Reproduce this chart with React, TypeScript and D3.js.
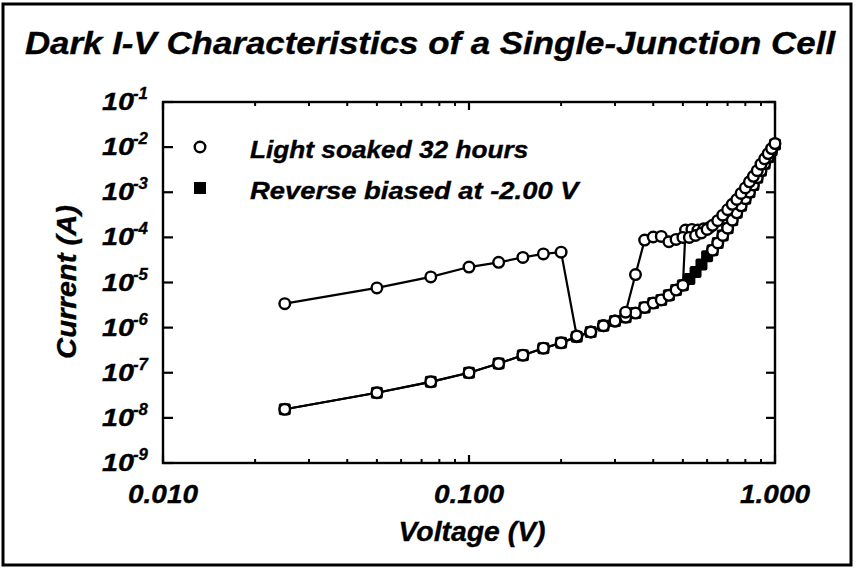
import React from "react";
import * as d3 from "d3";

// ---- data ----
const lowerV = [0.025, 0.05, 0.075, 0.1, 0.125, 0.15, 0.175, 0.2, 0.225, 0.25, 0.275, 0.3, 0.325, 0.35, 0.375, 0.4, 0.425, 0.45, 0.475, 0.5];
const lowerI = [1.55e-8, 3.6e-8, 6.3e-8, 1.0e-7, 1.6e-7, 2.45e-7, 3.5e-7, 4.6e-7, 6.3e-7, 8.0e-7, 1.1e-6, 1.4e-6, 1.7e-6, 2.1e-6, 2.8e-6, 3.5e-6, 4.1e-6, 5.2e-6, 6.8e-6, 8.7e-6];

// light soaked, sweep 1 (high leakage branch, drops, then jumps again)
const sweep1V = [0.025, 0.05, 0.075, 0.1, 0.125, 0.15, 0.175, 0.2, 0.225, 0.25, 0.275, 0.3, 0.325, 0.35, 0.375, 0.4, 0.425, 0.45, 0.475, 0.5, 0.525, 0.55, 0.575, 0.6, 0.625, 0.65, 0.675, 0.7, 0.725, 0.75, 0.775, 0.8, 0.825, 0.85, 0.875, 0.9, 0.925, 0.95, 0.975, 1.0];
const sweep1I = [3.4e-6, 7.6e-6, 1.33e-5, 2.2e-5, 2.8e-5, 3.6e-5, 4.3e-5, 4.7e-5, 6.5e-7, 8.0e-7, 1.1e-6, 1.4e-6, 2.2e-6, 1.5e-5, 8.7e-5, 1.02e-4, 1.05e-4, 8.0e-5, 9.0e-5, 1.0e-4, 1.0e-4, 1.1e-4, 1.25e-4, 1.5e-4, 1.85e-4, 2.35e-4, 3.1e-4, 4.1e-4, 5.4e-4, 6.9e-4, 9.4e-4, 1.25e-3, 1.7e-3, 2.25e-3, 3.0e-3, 4.2e-3, 5.5e-3, 7.2e-3, 9.3e-3, 1.2e-2];

// light soaked, sweep 2 (low branch, jumps near 0.51 V)
const sweep2V = [...lowerV, 0.51, 0.535, 0.56, 0.585, 0.61];
const sweep2I = [...lowerI, 1.45e-4, 1.5e-4, 1.45e-4, 1.55e-4, 1.65e-4];

// light soaked, low high-voltage branch
const sweep3V = [0.625, 0.65, 0.675, 0.7, 0.725, 0.75, 0.775, 0.8, 0.825, 0.85, 0.875, 0.9, 0.925, 0.95, 0.975];
const sweep3I = [5.2e-5, 7.5e-5, 1.1e-4, 1.6e-4, 2.4e-4, 3.5e-4, 5.0e-4, 7.2e-4, 1.0e-3, 1.45e-3, 2.1e-3, 3.0e-3, 4.3e-3, 6.0e-3, 8.5e-3];

// reverse biased at -2.00 V
const reverseV = [...lowerV, 0.525, 0.55, 0.575, 0.6, ...sweep3V, 1.0];
const reverseI = [...lowerI, 1.2e-5, 1.7e-5, 2.5e-5, 3.8e-5, ...sweep3I, 1.15e-2];

const yTickExps = [-1, -2, -3, -4, -5, -6, -7, -8, -9];
const xTickValues = [0.01, 0.1, 1];
const xTickLabels = ["0.010", "0.100", "1.000"];
const xMinorTicks = [0.02, 0.03, 0.04, 0.05, 0.06, 0.07, 0.08, 0.09, 0.2, 0.3, 0.4, 0.5, 0.6, 0.7, 0.8, 0.9];

const titleText = "Dark I-V Characteristics of a Single-Junction Cell";
const legendLabels = ["Light soaked 32 hours", "Reverse biased at -2.00 V"];
const xAxisTitle = "Voltage (V)";
const yAxisTitle = "Current (A)";

const W = 862;
const H = 571;
const L = 163, R = 775, T = 102, B = 463;
const FONT = "'Liberation Sans', Arial, Helvetica, sans-serif";

type STextProps = {
  x: number;
  y: number;
  size: number;
  sx?: number;
  anchor?: "start" | "middle" | "end";
  rotate?: number;
  children: React.ReactNode;
};

function SText({ x, y, size, sx = 1, anchor = "start", rotate = 0, children }: STextProps) {
  return (
    <text
      transform={`translate(${x},${y}) rotate(${rotate}) scale(${sx},1)`}
      textAnchor={anchor}
      fontSize={size}
      fontFamily={FONT}
      fontWeight="bold"
      fontStyle="italic"
      fill="#000"
      stroke="#000"
      strokeWidth={0.35}
    >
      {children}
    </text>
  );
}

export default function App() {
  const x = d3.scaleLog().domain([0.01, 1]).range([L, R]);
  const y = d3.scaleLog().domain([1e-9, 1e-1]).range([B, T]);
  const line = d3
    .line<[number, number]>()
    .x((d) => x(d[0]))
    .y((d) => y(d[1]));
  const zip = (vs: number[], is: number[]) => vs.map((v, i) => [v, is[i]] as [number, number]);

  const s1 = zip(sweep1V, sweep1I);
  const s2 = zip(sweep2V, sweep2I);
  const s3 = zip(sweep3V, sweep3I);
  const rv = zip(reverseV, reverseI);

  const LW = 2.2;
  const CR = 5.3;

  return (
    <div style={{ position: "fixed", left: 0, top: 0 }}>
      <svg width={W} height={H} viewBox={`0 0 ${W} ${H}`} style={{ display: "block", background: "#fff" }}>
        <rect x={3} y={4} width={848} height={561} fill="#fff" stroke="#000" strokeWidth={3} />
        <SText x={430} y={54} size={32} sx={1.09} anchor="middle">
          {titleText}
        </SText>

        {/* plot frame */}
        <rect x={L} y={T} width={R - L} height={B - T} fill="none" stroke="#000" strokeWidth={2.4} />

        {/* y ticks (left and right) */}
        {yTickExps.map((e) => {
          const yy = y(Math.pow(10, e));
          return (
            <g key={"y" + e}>
              <line x1={L} x2={L + 10} y1={yy} y2={yy} stroke="#000" strokeWidth={2.2} />
              <line x1={R} x2={R - 9} y1={yy} y2={yy} stroke="#000" strokeWidth={2.2} />
              <SText x={134} y={yy + 8} size={24} sx={1.2} anchor="end">
                10
              </SText>
              <SText x={133} y={yy - 3} size={16} sx={1.05}>
                {String(e)}
              </SText>
            </g>
          );
        })}

        {/* x ticks */}
        {xMinorTicks.map((v) => (
          <g key={"m" + v}>
            <line x1={x(v)} x2={x(v)} y1={B} y2={B - 4} stroke="#000" strokeWidth={2} />
            <line x1={x(v)} x2={x(v)} y1={T} y2={T + 4} stroke="#000" strokeWidth={2} />
          </g>
        ))}
        {xTickValues.map((v, i) => (
          <g key={"x" + v}>
            <line x1={x(v)} x2={x(v)} y1={B} y2={B - 8} stroke="#000" strokeWidth={2.2} />
            <line x1={x(v)} x2={x(v)} y1={T} y2={T + 8} stroke="#000" strokeWidth={2.2} />
            <SText x={x(v)} y={503} size={25} sx={1.12} anchor="middle">
              {xTickLabels[i]}
            </SText>
          </g>
        ))}

        {/* axis titles */}
        <SText x={472} y={541} size={27} sx={1.05} anchor="middle">
          {xAxisTitle}
        </SText>
        <SText x={76} y={282} size={27} sx={1.08} anchor="middle" rotate={-90}>
          {yAxisTitle}
        </SText>

        {/* lines */}
        <path d={line(rv) || ""} fill="none" stroke="#000" strokeWidth={LW} />
        <path d={line(s3) || ""} fill="none" stroke="#000" strokeWidth={LW} />
        <path d={line(s2) || ""} fill="none" stroke="#000" strokeWidth={LW} />
        <path d={line(s1) || ""} fill="none" stroke="#000" strokeWidth={LW} />

        {/* reverse-biased squares */}
        {rv.map((d, i) => (
          <rect key={"r" + i} x={x(d[0]) - 6} y={y(d[1]) - 6} width={12} height={12} rx={2} fill="#000" />
        ))}
        {/* light-soaked circles */}
        {[...s3, ...s2, ...s1].map((d, i) => (
          <circle key={"c" + i} cx={x(d[0])} cy={y(d[1])} r={CR} fill="#fff" stroke="#000" strokeWidth={2.4} />
        ))}

        {/* legend */}
        <circle cx={200} cy={147} r={CR} fill="#fff" stroke="#000" strokeWidth={2.4} />
        <SText x={250} y={158} size={23} sx={1.14}>
          {legendLabels[0]}
        </SText>
        <rect x={194} y={182} width={12} height={12} fill="#000" />
        <SText x={250} y={199} size={23} sx={1.19}>
          {legendLabels[1]}
        </SText>
      </svg>
    </div>
  );
}
